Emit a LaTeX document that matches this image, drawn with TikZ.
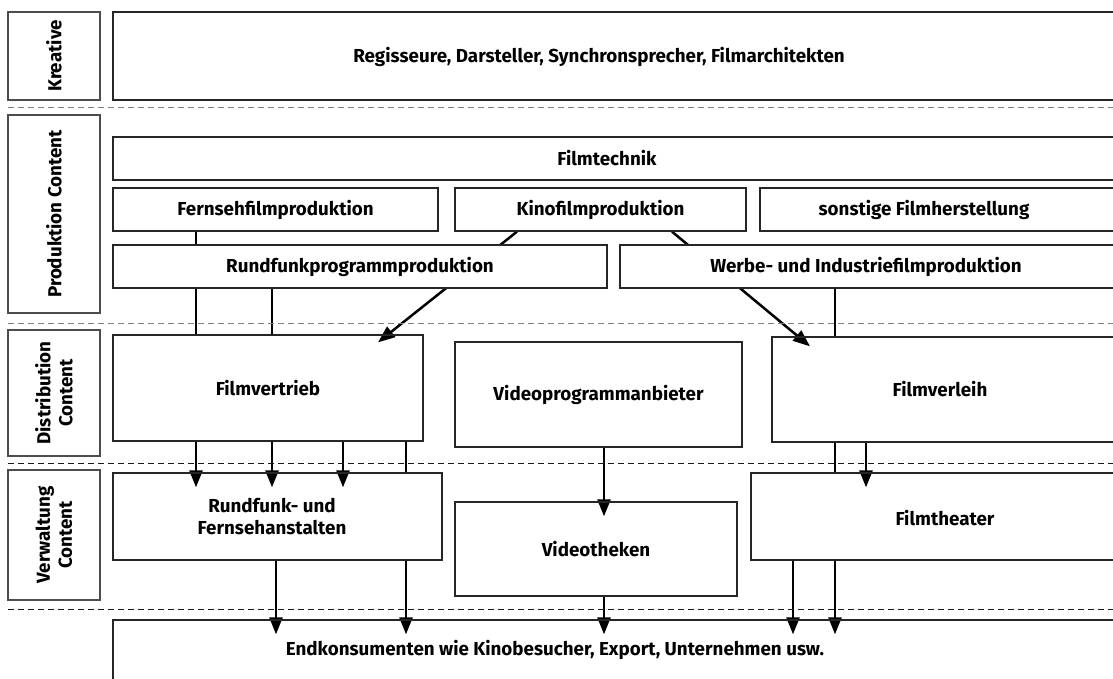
\documentclass[tikz,border=0pt]{standalone}
\usepackage{fontspec}
\setmainfont{Fira Sans}
\usetikzlibrary{arrows.meta,calc}
\pgfdeclarelayer{background}
\pgfsetlayers{background,main}
\begin{document}
\begin{tikzpicture}[x=1pt,y=-1pt,
  every node/.style={font=\fontsize{18.8}{22}\selectfont\bfseries},
  box/.style={draw=black!85,line width=1.3pt,inner sep=0pt,align=center},
  wbox/.style={box,fill=white},
  side/.style={draw=black!70,line width=1.3pt,inner sep=0pt,minimum width=92pt},
  rot/.style={rotate=90,align=center,inner sep=0pt},
  txt/.style={inner sep=0pt,align=center},
  conn/.style={line width=2.5pt,black},
  arr/.style={conn,-{Triangle[length=17pt,width=13pt]}},
  sepg/.style={dash pattern=on 6pt off 4pt,line width=1pt,black!50},
  sepb/.style={dash pattern=on 6pt off 4pt,line width=1pt,black!90}]
\useasboundingbox (0,0) rectangle (1113,679);
% left labels
\node[side,minimum height=88pt] (lk) at (54,56) {};
\node[rot] at (lk.center) {Kreative};
\node[side,minimum height=198pt] (lp) at (54,214) {};
\node[rot] at (lp.center) {Produktion Content};
\node[side,minimum height=126pt] (ld) at (54,393) {};
\node[rot] at (ld.center) {Distribution\\Content};
\node[side,minimum height=130pt] (lv) at (54,535) {};
\node[rot] at (lv.center) {Verwaltung\\Content};
% separators
\draw[sepg] (8,107.5) -- (1120,107.5);
\draw[sepg] (8,323) -- (1120,323);
\draw[sepb] (8,463) -- (1120,463);
\draw[sepb] (8,609) -- (1120,609);
% boxes
\node[box,minimum width=1007pt,minimum height=88pt] (kre) at (616.5,56) {};
\node[txt] at (599,57) {Regisseure, Darsteller, Synchronsprecher, Filmarchitekten};
\node[box,minimum width=1007pt,minimum height=43pt] (ft) at (616.5,158.5) {};
\node[txt] at (607,158.5) {Filmtechnik};
\node[box,minimum width=325pt,minimum height=43pt] (ffp) at (275.5,209.5) {Fernsehfilmproduktion};
\node[box,minimum width=291pt,minimum height=43pt] (kfp) at (600.5,209.5) {Kinofilmproduktion};
\node[box,minimum width=360pt,minimum height=43pt] (sfh) at (940,209.5) {};
\node[txt] at (924,209.5) {sonstige Filmherstellung};
\node[wbox,minimum width=494pt,minimum height=43pt] (rpp) at (360,266.5) {Rundfunkprogrammproduktion};
\node[wbox,minimum width=500pt,minimum height=43pt] (wip) at (870,266.5) {};
\node[txt] at (866,266.5) {Werbe- und Industriefilmproduktion};
\node[box,minimum width=310pt,minimum height=106pt] (fv) at (268,388) {Filmvertrieb};
\node[box,minimum width=287pt,minimum height=105pt] (vpa) at (598.5,394.5) {Videoprogrammanbieter};
\node[box,minimum width=348pt,minimum height=105pt] (fvl) at (946,389.5) {};
\node[txt] at (940,389.5) {Filmverleih};
\node[box,minimum width=329pt,minimum height=87pt] (rfa) at (277.5,516.5) {};
\node[txt] at (272,517) {Rundfunk- und\\Fernsehanstalten};
\node[box,minimum width=282pt,minimum height=94pt] (vt) at (596,549) {Videotheken};
\node[box,minimum width=369pt,minimum height=87pt] (fth) at (935.5,516.5) {};
\node[txt] at (945,518) {Filmtheater};
\node[box,minimum width=1007pt,minimum height=80pt] (end) at (616.5,660) {};
\node[txt] at (555,650) {Endkonsumenten wie Kinobesucher, Export, Unternehmen usw.};
% connectors
\begin{pgfonlayer}{background}
\draw[conn] (196,0 |- ffp.south) -- (196,0 |- rpp.north);
\draw[conn] (196,0 |- rpp.south) -- (196,0 |- fv.north);
\draw[conn] (272,0 |- rpp.south) -- (272,0 |- fv.north);
\draw[arr] (517,0 |- kfp.south) -- ($(378,0 |- fv.north)+(0,8)$);
\draw[arr] (672,0 |- kfp.south) -- ($(810,0 |- fvl.north)+(0,10)$);
\draw[conn] (835,0 |- wip.south) -- (835,0 |- fvl.north);
\draw[arr,shorten >=-15pt] (196,0 |- fv.south) -- (196,0 |- rfa.north);
\draw[arr,shorten >=-15pt] (272,0 |- fv.south) -- (272,0 |- rfa.north);
\draw[arr,shorten >=-15pt] (343,0 |- fv.south) -- (343,0 |- rfa.north);
\draw[conn] (406,0 |- fv.south) -- (406,0 |- rfa.north);
\draw[arr,shorten >=-15pt] (604,0 |- vpa.south) -- (604,0 |- vt.north);
\draw[conn] (835,0 |- fvl.south) -- (835,0 |- fth.north);
\draw[arr,shorten >=-15pt] (866,0 |- fvl.south) -- (866,0 |- fth.north);
\draw[arr,shorten >=-15pt] (276,0 |- rfa.south) -- (276,0 |- end.north);
\draw[arr,shorten >=-15pt] (406,0 |- rfa.south) -- (406,0 |- end.north);
\draw[arr,shorten >=-15pt] (604,0 |- vt.south) -- (604,0 |- end.north);
\draw[arr,shorten >=-15pt] (793,0 |- fth.south) -- (793,0 |- end.north);
\draw[arr,shorten >=-15pt] (835,0 |- fth.south) -- (835,0 |- end.north);
\end{pgfonlayer}
\end{tikzpicture}
\end{document}
